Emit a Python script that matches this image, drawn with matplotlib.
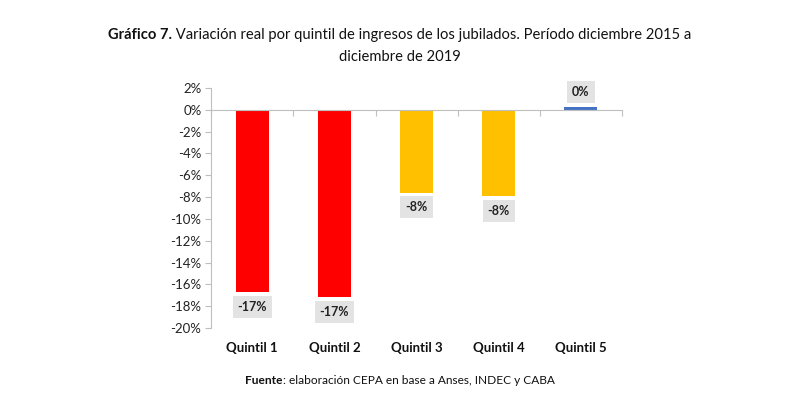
import matplotlib
matplotlib.use("Agg")
from matplotlib import pyplot as plt

plt.rcParams['font.family'] = ['Lato', 'DejaVu Sans']

# datos del grafico
categorias = ['Quintil 1', 'Quintil 2', 'Quintil 3', 'Quintil 4', 'Quintil 5']
variacion = [-16.7, -17.2, -7.6, -7.9, 0.3]
colores = ['#FF0000', '#FF0000', '#FFC000', '#FFC000', '#4472C4']
yticks = list(range(-20, 3, 2))

fig = plt.figure(figsize=(8, 3.93), dpi=100)
ax = fig.add_axes([0.264, 0.1654, 0.5135, 0.6107])

x = list(range(len(categorias)))
ax.bar(x, variacion, width=0.4, color=colores, zorder=2)

ax.set_xlim(-0.5, len(categorias) - 0.5)
ax.set_ylim(-20, 2)
ax.set_yticks(yticks)
ax.set_yticklabels([f"{t}%" for t in yticks], fontsize=9.5, color='#222222')

# eje de categorias cruza en 0
gris = '#BFBFBF'
for s in ['top', 'right']:
    ax.spines[s].set_visible(False)
ax.spines['left'].set_color(gris)
ax.spines['bottom'].set_color(gris)
ax.spines['bottom'].set_position(('data', 0))
ax.set_xticks([i - 0.5 for i in range(len(categorias) + 1)])
ax.set_xticklabels([])
ax.tick_params(axis='x', length=4, color=gris, direction='out')
ax.tick_params(axis='y', length=4, color=gris, direction='out', pad=3)

sec = ax.secondary_xaxis('bottom')
sec.set_xticks(x)
sec.set_xticklabels(categorias, fontsize=9.5, fontweight='bold', color='#111111')
sec.tick_params(length=0, pad=10)
sec.spines['bottom'].set_visible(False)

# etiquetas de valor
for i, v in enumerate(variacion):
    off = -10.5 if v < 0 else 10.5
    ax.annotate(f"{round(v):.0f}%", (i, v), xytext=(0, off), textcoords='offset points',
                ha='center', va='center', fontsize=9, fontweight='bold', color='#222222',
                bbox=dict(boxstyle='square,pad=0.4', fc='#E3E3E3', ec='none'), zorder=3)

# titulo con parte en negrita
def texto_mixto(y, partes, size):
    fig.canvas.draw()
    r = fig.canvas.get_renderer()
    objs = []
    for txt, w in partes:
        objs.append(fig.text(0, y, txt, fontsize=size, fontweight=w, ha='left', va='center', color='#111111'))
    anchos = [o.get_window_extent(r).width for o in objs]
    total = sum(anchos)
    xpos = (fig.bbox.width - total) / 2
    for o, a in zip(objs, anchos):
        o.set_x(xpos / fig.bbox.width)
        xpos += a

texto_mixto(1 - 35 / 393, [("Gráfico 7.", 'bold'),
                           (" Variación real por quintil de ingresos de los jubilados. Período diciembre 2015 a", 'normal')], 10.6)
fig.text(0.5, 1 - 57 / 393, "diciembre de 2019", fontsize=10.6, ha='center', va='center', color='#111111')
texto_mixto(1 - 381 / 393, [("Fuente", 'bold'),
                            (": elaboración CEPA en base a Anses, INDEC y CABA", 'normal')], 8.6)

fig.savefig("out.png", dpi=100, facecolor='white')
